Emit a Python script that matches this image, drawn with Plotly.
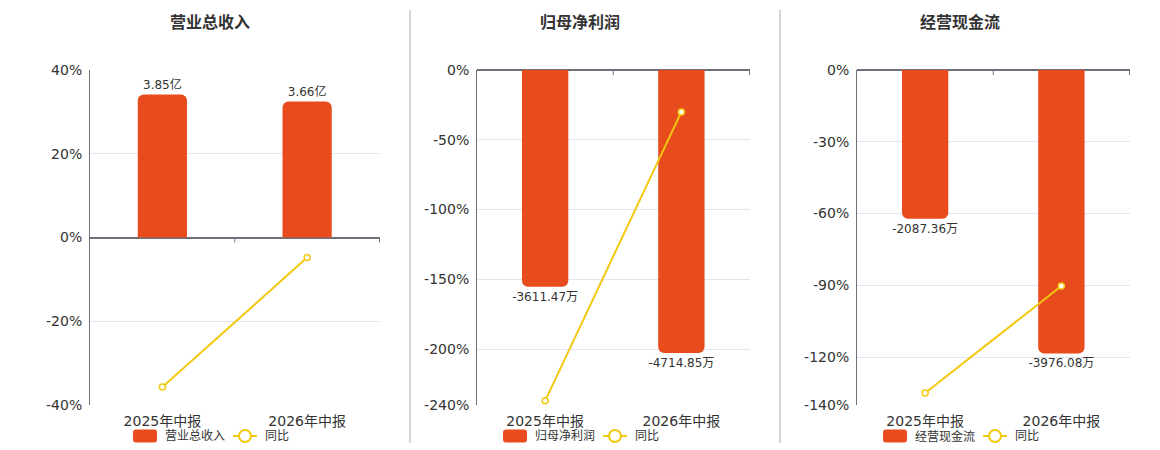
import plotly.graph_objects as go

# --- Data ---
periods = ["2025年中报", "2026年中报"]

revenue = [3.85, 3.66]            # 亿
revenue_yoy = [-35.7, -4.8]       # %
profit = [-3611.47, -4714.85]     # 万
profit_yoy = [-237.0, -30.0]      # %
cashflow = [-2087.36, -3976.08]   # 万
cashflow_yoy = [-135.0, -90.3]    # %

titles = ["营业总收入", "归母净利润", "经营现金流"]
bar_units = ["亿", "万", "万"]

yoy_ticks = [
    [40, 20, 0, -20, -40],
    [0, -50, -100, -150, -200, -240],
    [0, -30, -60, -90, -120, -140],
]
yoy_ranges = [[-40, 40], [-240, 0], [-140, 0]]
bar_ranges = [[-4.51, 4.51], [-5580, 0], [-4700, 0]]

BAR_COLOR = "#e84c1d"
LINE_COLOR = "#f2c811"
FONT = "DejaVu Sans, Noto Sans CJK SC"
AXIS_COLOR = "#6e7079"

# page body has an 8px margin, so the figure is 8px smaller on each side
OFF = 8
W, H = 1160 - OFF, 450 - OFF


def px(x):
    return (x - OFF) / W


def py(y):
    return 1 - (y - OFF) / H


def round_rect(x0, y0, x1, y1, r):
    # rounded rectangle as an svg path in paper coords (inputs in page pixels)
    pts = [
        f"M {px(x0 + r)},{py(y0)}", f"L {px(x1 - r)},{py(y0)}",
        f"Q {px(x1)},{py(y0)} {px(x1)},{py(y0 + r)}", f"L {px(x1)},{py(y1 - r)}",
        f"Q {px(x1)},{py(y1)} {px(x1 - r)},{py(y1)}", f"L {px(x0 + r)},{py(y1)}",
        f"Q {px(x0)},{py(y1)} {px(x0)},{py(y1 - r)}", f"L {px(x0)},{py(y0 + r)}",
        f"Q {px(x0)},{py(y0)} {px(x0 + r)},{py(y0)}", "Z",
    ]
    return " ".join(pts)


x_px = [(90, 380), (477, 750), (857, 1130)]
center_px = [210, 580, 960]
y_dom = [py(405), py(70)]

fig = go.Figure()

panels = [(revenue, revenue_yoy), (profit, profit_yoy), (cashflow, cashflow_yoy)]
layout = {}
shapes = []
annotations = []

for i, (bars, yoy) in enumerate(panels):
    n = i + 1
    xa = "x" if n == 1 else f"x{n}"
    ya_bar = "y" if n == 1 else f"y{2 * n - 1}"
    ya_line = f"y{2 * n}"

    fig.add_trace(go.Bar(
        x=periods, y=bars, name=titles[i],
        xaxis=xa, yaxis=ya_bar, showlegend=False,
        marker=dict(color=BAR_COLOR, cornerradius=6, line=dict(width=0)),
        width=0.34,
        text=[f"{v:.2f}{bar_units[i]}" for v in bars],
        textposition="outside", constraintext="none",
        textfont=dict(size=12, color="#333", family=FONT),
        cliponaxis=False,
    ))
    fig.add_trace(go.Scatter(
        x=periods, y=yoy, name="同比", mode="lines+markers",
        xaxis=xa, yaxis=ya_line, showlegend=False,
        line=dict(color=LINE_COLOR, width=2),
        marker=dict(symbol="circle", size=6, color="white",
                    line=dict(color=LINE_COLOR, width=1.5)),
        cliponaxis=False,
    ))

    x0, x1 = x_px[i]
    xkey = "xaxis" if n == 1 else f"xaxis{n}"
    ykey_bar = "yaxis" if n == 1 else f"yaxis{2 * n - 1}"
    ykey_line = f"yaxis{2 * n}"

    layout[xkey] = dict(
        domain=[px(x0), px(x1)], anchor=ya_bar, type="category",
        automargin=False, showline=False, showgrid=False, ticks="",
        ticklabelstandoff=6,
        tickfont=dict(size=14, color="#333", family=FONT),
    )
    layout[ykey_bar] = dict(
        domain=y_dom, anchor=xa, range=bar_ranges[i], automargin=False,
        showgrid=False, showticklabels=False, zeroline=False, showline=False,
    )
    layout[ykey_line] = dict(
        overlaying=ya_bar, anchor=xa, side="left", range=yoy_ranges[i],
        automargin=False,
        tickmode="array", tickvals=yoy_ticks[i],
        ticktext=[f"{v}%" for v in yoy_ticks[i]],
        tickfont=dict(size=14, color="#333", family=FONT),
        showgrid=True, gridcolor="#e0e6f1", gridwidth=1,
        zeroline=True, zerolinecolor=AXIS_COLOR, zerolinewidth=2,
        showline=True, linecolor=AXIS_COLOR, linewidth=1,
        ticks="", ticklabelstandoff=4,
    )

    # small tick marks on the category axis at band boundaries
    for b in [0.5, 1.5]:
        shapes.append(dict(
            type="line", xref=xa, yref=ya_line, x0=b, x1=b,
            ysizemode="pixel", yanchor=0, y0=0, y1=-5,
            line=dict(color=AXIS_COLOR, width=1),
        ))

    # panel title
    annotations.append(dict(
        text=f"<b>{titles[i]}</b>", xref="paper", yref="paper",
        x=px(center_px[i]), y=py(22), xanchor="center", yanchor="middle",
        showarrow=False, font=dict(size=16, color="#333", family=FONT),
    ))

    # hand-drawn legend: rounded bar swatch + line/circle symbol
    c = center_px[i]
    ly = 436
    shapes.append(dict(
        type="path", xref="paper", yref="paper",
        path=round_rect(c - 77, ly - 6.5, c - 53, ly + 6.5, 3),
        fillcolor=BAR_COLOR, line=dict(width=0),
    ))
    annotations.append(dict(
        text=titles[i], xref="paper", yref="paper",
        x=px(c - 47), y=py(ly), xanchor="left", yanchor="middle",
        showarrow=False, font=dict(size=12, color="#333", family=FONT),
    ))
    shapes.append(dict(
        type="line", xref="paper", yref="paper",
        x0=px(c + 23), x1=px(c + 47), y0=py(ly), y1=py(ly),
        line=dict(color=LINE_COLOR, width=2),
    ))
    shapes.append(dict(
        type="circle", xref="paper", yref="paper",
        x0=px(c + 29), x1=px(c + 41), y0=py(ly + 6), y1=py(ly - 6),
        fillcolor="white", line=dict(color=LINE_COLOR, width=2),
    ))
    annotations.append(dict(
        text="同比", xref="paper", yref="paper",
        x=px(c + 53), y=py(ly), xanchor="left", yanchor="middle",
        showarrow=False, font=dict(size=12, color="#333", family=FONT),
    ))

# vertical dividers between panels
for xp in [410, 780]:
    shapes.append(dict(
        type="line", xref="paper", yref="paper",
        x0=px(xp), x1=px(xp), y0=py(10), y1=py(443),
        line=dict(color="#aaaaaa", width=1),
    ))

fig.update_layout(
    **layout,
    width=W, height=H,
    margin=dict(l=0, r=0, t=0, b=0, autoexpand=False),
    plot_bgcolor="white", paper_bgcolor="white",
    font=dict(family=FONT, color="#333"),
    shapes=shapes, annotations=annotations,
    showlegend=False,
)

fig.write_html("out.html")
